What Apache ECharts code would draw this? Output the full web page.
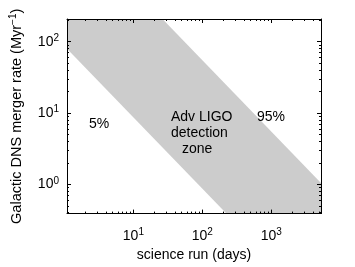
<!DOCTYPE html>
<html><head><meta charset="utf-8">
<script src="https://cdn.jsdelivr.net/npm/echarts@6/dist/echarts.min.js"></script>
<style>html,body{margin:0;padding:0;background:#fff}#c{width:355px;height:267px}</style>
</head><body><div id="c"></div>
<script>
// Data (science run in days; merger rate in Myr^-1)
const runDays = [1, 10000];
const rate5pct = [87, 0.0087];     // lower-left boundary of detection zone
const rate95pct = [5500, 0.55];    // upper-right boundary of detection zone
const xMajorTicks = [10, 100, 1000];
const yMajorTicks = [1, 10, 100];
const xMinorTicks = [2,3,4,5,6,7,8,9,20,30,40,50,60,70,80,90,200,300,400,500,600,700,800,900,2000,3000,4000,5000];
const yMinorTicks = [0.4,0.5,0.6,0.7,0.8,0.9,2,3,4,5,6,7,8,9,20,30,40,50,60,70,80,90,200];
const xRange = [1.09, 5250];
const yRange = [0.389, 208];

const FONT = 'Liberation Sans';
const bandData = runDays.map((d, i) => [d, rate5pct[i], rate95pct[i]]);

function supLabel(v) {
  return '{b|10}{s|' + Math.round(Math.log10(v)) + '}';
}
const rich = {
  b: {fontSize: 14, fontFamily: FONT, color: '#000'},
  s: {fontSize: 10, fontFamily: FONT, color: '#000', verticalAlign: 'top', padding: [0, 0, 7, 0]}
};

function xAx(extra) {
  return Object.assign({
    type: 'log', logBase: 10, min: xRange[0], max: xRange[1],
    splitLine: {show: false}, axisLabel: {show: false},
    axisLine: {show: true, onZero: false, lineStyle: {color: '#000', width: 1}},
    axisTick: {show: true, inside: true, length: 4, customValues: xMajorTicks, lineStyle: {color: '#000'}},
    z: 5
  }, extra);
}
function yAx(extra) {
  return Object.assign({
    type: 'log', logBase: 10, min: yRange[0], max: yRange[1],
    splitLine: {show: false}, axisLabel: {show: false},
    axisLine: {show: true, onZero: false, lineStyle: {color: '#000', width: 1}},
    axisTick: {show: true, inside: true, length: 4, customValues: yMajorTicks, lineStyle: {color: '#000'}},
    z: 5
  }, extra);
}

const txt = (s, left, top) => ({type: 'text', z: 100, left: left, top: top,
  style: {text: s, font: '14px "Liberation Sans"', fill: '#000'}});

const chart = echarts.init(document.getElementById('c'), null, {renderer: 'canvas'});
chart.setOption({
  animation: false,
  backgroundColor: '#fff',
  grid: {left: 57, right: 34, top: 19, bottom: 42, containLabel: false},
  xAxis: [
    xAx({position: 'bottom',
      name: 'science run (days)', nameLocation: 'middle', nameGap: 33,
      nameTextStyle: {fontSize: 14, fontFamily: FONT, color: '#000'},
      axisLabel: {show: true, customValues: xMajorTicks, formatter: supLabel, rich: rich, margin: 14}}),
    xAx({position: 'top'}),
    xAx({position: 'bottom', axisLine: {show: false}, axisTick: {show: true, inside: true, length: 2, customValues: xMinorTicks, lineStyle: {color: '#000'}}}),
    xAx({position: 'top', axisLine: {show: false}, axisTick: {show: true, inside: true, length: 2, customValues: xMinorTicks, lineStyle: {color: '#000'}}})
  ],
  yAxis: [
    yAx({position: 'left',
      name: 'Galactic DNS merger rate (Myr{s|−1})', nameLocation: 'middle', nameGap: 42,
      nameTextStyle: {fontSize: 14.5, fontFamily: FONT, color: '#000',
        rich: {s: {fontSize: 10, fontFamily: FONT, color: '#000', verticalAlign: 'top', padding: [0, 0, 7, 0]}}},
      axisLabel: {show: true, customValues: yMajorTicks, formatter: supLabel, rich: rich, margin: 8}}),
    yAx({position: 'right'}),
    yAx({position: 'left', axisLine: {show: false}, axisTick: {show: true, inside: true, length: 2, customValues: yMinorTicks, lineStyle: {color: '#000'}}}),
    yAx({position: 'right', axisLine: {show: false}, axisTick: {show: true, inside: true, length: 2, customValues: yMinorTicks, lineStyle: {color: '#000'}}})
  ],
  series: [{
    type: 'custom',
    xAxisIndex: 0, yAxisIndex: 0,
    clip: true,
    z: 1,
    data: bandData,
    renderItem: function (params, api) {
      const i = params.dataIndex;
      if (i >= bandData.length - 1) return null;
      const a = bandData[i], b = bandData[i + 1];
      const pts = [
        api.coord([a[0], a[1]]), api.coord([b[0], b[1]]),
        api.coord([b[0], b[2]]), api.coord([a[0], a[2]])
      ];
      return {type: 'polygon', shape: {points: pts}, style: {fill: '#cccccc', stroke: null}};
    }
  }],
  graphic: [
    txt('5%', 89, 117),
    txt('Adv LIGO', 171, 110),
    txt('detection', 171, 126),
    txt('zone', 182, 142),
    txt('95%', 257, 110)
  ]
});
</script></body></html>
